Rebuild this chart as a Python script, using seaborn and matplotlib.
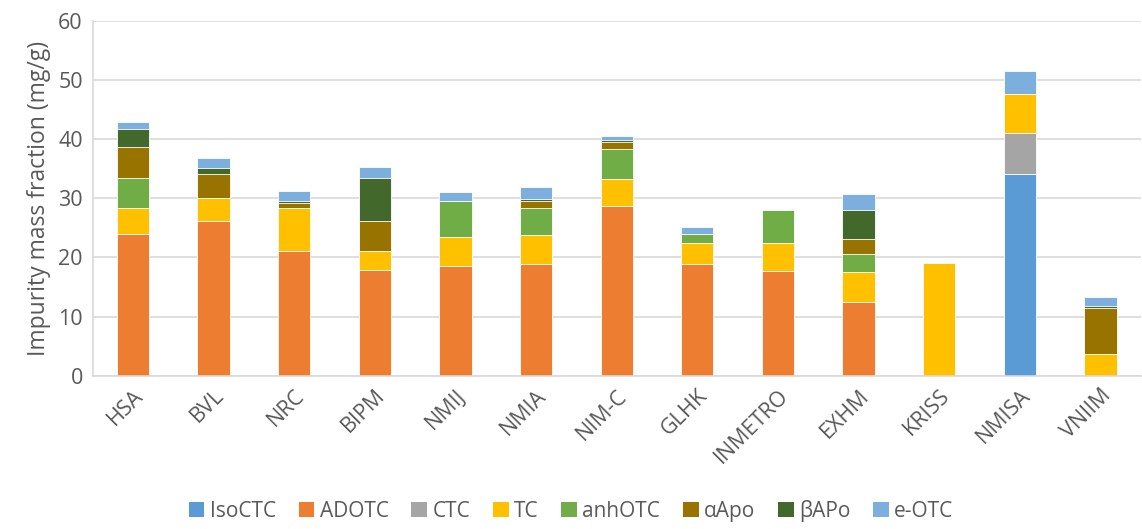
import numpy as np
import pandas as pd
import seaborn as sns
from matplotlib import pyplot as plt
from matplotlib.patches import Patch

# institutes on the x axis
labs = ["HSA", "BVL", "NRC", "BIPM", "NMIJ", "NMIA", "NIM-C", "GLHK",
        "INMETRO", "EXHM", "KRISS", "NMISA", "VNIIM"]

# impurity values (mg/g), one list per component
isoctc = [0, 0, 0, 0, 0, 0, 0, 0, 0, 0, 0, 34.2, 0]
adotc = [24.0, 26.1, 21.1, 17.8, 18.6, 18.9, 28.7, 18.9, 17.7, 12.4, 0, 0, 0]
ctc = [0, 0, 0, 0, 0, 0, 0, 0, 0, 0, 0, 6.9, 0]
tc = [4.3, 4.0, 7.2, 3.3, 4.9, 4.9, 4.6, 3.5, 4.8, 5.1, 19.0, 6.5, 3.6]
anhotc = [5.2, 0, 0, 0, 6.0, 4.6, 5.1, 1.5, 5.5, 3.0, 0, 0, 0]
aapo = [5.2, 4.0, 0.9, 5.1, 0, 1.2, 1.2, 0, 0, 2.7, 0, 0, 7.9]
bapo = [3.1, 1.1, 0.4, 7.2, 0, 0.3, 0.2, 0, 0, 4.8, 0, 0, 0.3]
eotc = [1.1, 1.7, 1.6, 1.9, 1.6, 2.1, 0.7, 1.2, 0, 2.7, 0, 4.0, 1.5]

names = ["IsoCTC", "ADOTC", "CTC", "TC", "anhOTC", "αApo", "βAPo", "e-OTC"]
cols = ["#5B9BD5", "#ED7D31", "#A5A5A5", "#FFC000", "#70AD47", "#997300", "#43682B", "#7CAFDD"]

df = pd.DataFrame({"lab": labs, "IsoCTC": isoctc, "ADOTC": adotc, "CTC": ctc, "TC": tc,
                   "anhOTC": anhotc, "αApo": aapo, "βAPo": bapo, "e-OTC": eotc})

plt.rcParams['font.family'] = ['Open Sans', 'DejaVu Sans']
txt = "#595959"

fig, ax = plt.subplots(figsize=(11.42, 5.29), dpi=100)

# stacked bars: draw running totals from the top series down
cum = df[names].cumsum(axis=1)
for n, c in reversed(list(zip(names, cols))):
    sns.barplot(x=df["lab"], y=cum[n], color=c, width=0.4, ax=ax, saturation=1,
                edgecolor="white", linewidth=0.6, order=labs)

ax.set_ylim(0, 60)
ax.set_yticks(range(0, 61, 10))
ax.set_xlim(-0.5, len(labs) - 0.5)
ax.yaxis.grid(True, color="#D9D9D9", linewidth=1.2)
ax.set_axisbelow(True)
for s in ["top", "right"]:
    ax.spines[s].set_visible(False)
for s in ["left", "bottom"]:
    ax.spines[s].set_color("#D9D9D9")
    ax.spines[s].set_linewidth(1.2)
ax.tick_params(length=0, labelsize=15.5, colors=txt, pad=7)
plt.setp(ax.get_xticklabels(), rotation=45, ha="right", rotation_mode="anchor")
ax.set_xlabel("")
ax.set_ylabel("Impurity mass fraction (mg/g)", fontsize=16.5, color=txt, labelpad=5)

handles = [Patch(facecolor=c, label=n) for n, c in zip(names, cols)]
fig.legend(handles=handles, loc="lower center", ncol=8, frameon=False,
           bbox_to_anchor=(0.5, -0.022), fontsize=15, labelcolor=txt,
           handlelength=0.75, handleheight=0.75, handletextpad=0.25, columnspacing=1.1)

fig.subplots_adjust(left=0.081, right=0.999, top=0.96, bottom=0.29)
fig.savefig("out.png", dpi=100)
